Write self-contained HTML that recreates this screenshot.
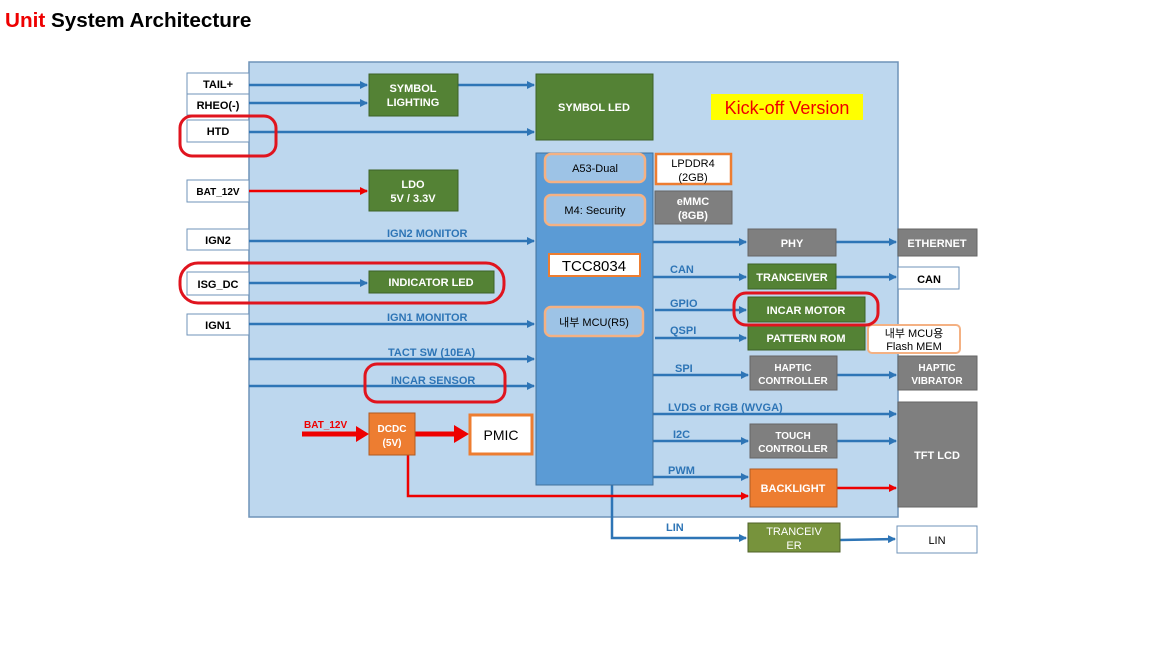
<!DOCTYPE html>
<html><head><meta charset="utf-8"><style>
body{margin:0;width:1152px;height:648px;background:#fff;overflow:hidden;font-family:"Liberation Sans","Noto Sans CJK KR",sans-serif}
svg text{font-family:"Liberation Sans","Noto Sans CJK KR",sans-serif}
</style></head><body>
<svg width="1152" height="648" viewBox="0 0 1152 648" xmlns="http://www.w3.org/2000/svg">
<defs>
<marker id="b" markerWidth="8" markerHeight="8" refX="7" refY="4" orient="auto" markerUnits="userSpaceOnUse"><path d="M0,0 L8,4 L0,8z" fill="#2e75b6"/></marker>
<marker id="r" markerWidth="8" markerHeight="8" refX="7" refY="4" orient="auto" markerUnits="userSpaceOnUse"><path d="M0,0 L8,4 L0,8z" fill="#e00"/></marker>
</defs>
<text x="5" y="27" font-size="20.7" font-weight="bold" fill="#000"><tspan fill="#e00">Unit</tspan> System Architecture</text>
<rect x="249" y="62" width="649" height="455" fill="#bdd7ee" stroke="#6f93b8" stroke-width="1.5"/>
<g font-size="11" font-weight="bold" text-anchor="middle" fill="#000">
<rect x="187" y="73" width="62" height="21" fill="#fff" stroke="#6f93b8"/><text x="218" y="88">TAIL+</text>
<rect x="187" y="94" width="62" height="21" fill="#fff" stroke="#6f93b8"/><text x="218" y="109">RHEO(-)</text>
<rect x="187" y="120" width="62" height="22" fill="#fff" stroke="#6f93b8"/><text x="218" y="135">HTD</text>
<rect x="187" y="180" width="62" height="22" fill="#fff" stroke="#6f93b8"/><text x="218" y="195" font-size="10">BAT_12V</text>
<rect x="187" y="229" width="62" height="21" fill="#fff" stroke="#6f93b8"/><text x="218" y="244">IGN2</text>
<rect x="187" y="272" width="62" height="23" fill="#fff" stroke="#6f93b8"/><text x="218" y="288">ISG_DC</text>
<rect x="187" y="314" width="62" height="21" fill="#fff" stroke="#6f93b8"/><text x="218" y="329">IGN1</text>
</g>
<g stroke="#2e75b6" stroke-width="2.5" fill="none">
<line x1="249" y1="85" x2="367" y2="85" marker-end="url(#b)"/>
<line x1="249" y1="103" x2="367" y2="103" marker-end="url(#b)"/>
<line x1="458" y1="85" x2="534" y2="85" marker-end="url(#b)"/>
<line x1="249" y1="132" x2="534" y2="132" marker-end="url(#b)"/>
<line x1="249" y1="241" x2="534" y2="241" marker-end="url(#b)"/>
<line x1="249" y1="283" x2="367" y2="283" marker-end="url(#b)"/>
<line x1="249" y1="324" x2="534" y2="324" marker-end="url(#b)"/>
<line x1="249" y1="359" x2="534" y2="359" marker-end="url(#b)"/>
<line x1="249" y1="386" x2="534" y2="386" marker-end="url(#b)"/>
<line x1="653" y1="242" x2="746" y2="242" marker-end="url(#b)"/>
<line x1="836" y1="242" x2="896" y2="242" marker-end="url(#b)"/>
<line x1="653" y1="277" x2="746" y2="277" marker-end="url(#b)"/>
<line x1="836" y1="277" x2="896" y2="277" marker-end="url(#b)"/>
<line x1="655" y1="310" x2="746" y2="310" marker-end="url(#b)"/>
<line x1="655" y1="338" x2="746" y2="338" marker-end="url(#b)"/>
<line x1="653" y1="375" x2="748" y2="375" marker-end="url(#b)"/>
<line x1="837" y1="375" x2="896" y2="375" marker-end="url(#b)"/>
<line x1="653" y1="414" x2="896" y2="414" marker-end="url(#b)"/>
<line x1="653" y1="441" x2="748" y2="441" marker-end="url(#b)"/>
<line x1="837" y1="441" x2="896" y2="441" marker-end="url(#b)"/>
<line x1="653" y1="477" x2="748" y2="477" marker-end="url(#b)"/>
<polyline points="612,485 612,538 746,538" marker-end="url(#b)"/>
<line x1="840" y1="540" x2="895" y2="539" marker-end="url(#b)"/>
</g>
<g stroke="#e00" fill="none">
<line x1="249" y1="191" x2="367" y2="191" stroke-width="2.5" marker-end="url(#r)"/>
<polyline points="408,455 408,496 748,496" stroke-width="2.5" marker-end="url(#r)"/>
<line x1="837" y1="488" x2="896" y2="488" stroke-width="2.5" marker-end="url(#r)"/>
<line x1="302" y1="434" x2="358" y2="434" stroke-width="5"/>
<line x1="415" y1="434" x2="456" y2="434" stroke-width="5"/>
</g>
<path d="M356,426 L369,434 L356,442z" fill="#e00"/>
<path d="M454,425 L469,434 L454,443z" fill="#e00"/>
<text x="304" y="428" font-size="10" font-weight="bold" fill="#e00">BAT_12V</text>
<g font-size="11" font-weight="bold" fill="#2e75b6">
<text x="387" y="237">IGN2 MONITOR</text>
<text x="387" y="321">IGN1 MONITOR</text>
<text x="388" y="356">TACT SW (10EA)</text>
<text x="391" y="384">INCAR SENSOR</text>
<text x="670" y="273">CAN</text>
<text x="670" y="307">GPIO</text>
<text x="670" y="334">QSPI</text>
<text x="675" y="372">SPI</text>
<text x="668" y="411">LVDS or RGB (WVGA)</text>
<text x="673" y="438">I2C</text>
<text x="668" y="474">PWM</text>
<text x="666" y="531">LIN</text>
</g>
<g font-size="11" font-weight="bold" fill="#fff" text-anchor="middle">
<rect x="369" y="74" width="89" height="42" fill="#548235" stroke="#3d6126"/><text x="413" y="92">SYMBOL</text><text x="413" y="106">LIGHTING</text>
<rect x="536" y="74" width="117" height="66" fill="#548235" stroke="#3d6126"/><text x="594" y="111">SYMBOL LED</text>
<rect x="369" y="170" width="89" height="41" fill="#548235" stroke="#3d6126"/><text x="413" y="188">LDO</text><text x="413" y="202">5V / 3.3V</text>
<rect x="369" y="271" width="125" height="22" fill="#548235" stroke="#3d6126"/><text x="431" y="286">INDICATOR LED</text>
<rect x="536" y="153" width="117" height="332" fill="#5b9bd5" stroke="#41719c"/>
<rect x="748" y="229" width="88" height="27" fill="#7f7f7f" stroke="#666"/><text x="792" y="247">PHY</text>
<rect x="898" y="229" width="79" height="27" fill="#7f7f7f" stroke="#666"/><text x="937" y="247">ETHERNET</text>
<rect x="748" y="264" width="88" height="25" fill="#548235" stroke="#3d6126"/><text x="792" y="281">TRANCEIVER</text>
<rect x="748" y="297" width="117" height="25" fill="#548235" stroke="#3d6126"/><text x="806" y="314">INCAR MOTOR</text>
<rect x="748" y="326" width="117" height="24" fill="#548235" stroke="#3d6126"/><text x="806" y="342">PATTERN ROM</text>
<rect x="750" y="356" width="87" height="34" fill="#7f7f7f" stroke="#666"/><text x="793" y="371" font-size="10">HAPTIC</text><text x="793" y="384" font-size="10">CONTROLLER</text>
<rect x="898" y="356" width="79" height="34" fill="#7f7f7f" stroke="#666"/><text x="937" y="371" font-size="10">HAPTIC</text><text x="937" y="384" font-size="10">VIBRATOR</text>
<rect x="898" y="402" width="79" height="105" fill="#7f7f7f" stroke="#666"/><text x="937" y="459">TFT LCD</text>
<rect x="750" y="424" width="87" height="34" fill="#7f7f7f" stroke="#666"/><text x="793" y="439" font-size="10">TOUCH</text><text x="793" y="452" font-size="10">CONTROLLER</text>
<rect x="750" y="469" width="87" height="38" fill="#ed7d31" stroke="#ae5a21"/><text x="793" y="492">BACKLIGHT</text>
<rect x="369" y="413" width="46" height="42" fill="#ed7d31" stroke="#ae5a21"/><text x="392" y="432" font-size="10">DCDC</text><text x="392" y="446" font-size="10">(5V)</text>
<rect x="655" y="191" width="77" height="33" fill="#7f7f7f" stroke="#666"/><text x="693" y="205">eMMC</text><text x="693" y="219">(8GB)</text>
<rect x="748" y="523" width="92" height="29" fill="#77933c" stroke="#4f6228"/><text x="794" y="535" font-family="Liberation Serif,serif" font-weight="normal" font-size="11">TRANCEIV</text><text x="794" y="549" font-family="Liberation Serif,serif" font-weight="normal" font-size="11">ER</text>
</g>
<g fill="#000" text-anchor="middle">
<rect x="898" y="267" width="61" height="22" fill="#fff" stroke="#6f93b8"/><text x="929" y="283" font-size="11" font-weight="bold">CAN</text>
<rect x="897" y="526" width="80" height="27" fill="#fff" stroke="#6f93b8"/><text x="937" y="544" font-size="11" font-family="Liberation Serif,serif">LIN</text>
<rect x="470" y="415" width="62" height="39" fill="#fff" stroke="#ed7d31" stroke-width="3"/><text x="501" y="440" font-size="14">PMIC</text>
<rect x="656" y="154" width="75" height="30" fill="#fff" stroke="#ed7d31" stroke-width="2.5"/><text x="693" y="167" font-size="11">LPDDR4</text><text x="693" y="181" font-size="11">(2GB)</text>
<rect x="868" y="325" width="92" height="28" rx="4" fill="#fff" stroke="#f4b183" stroke-width="2"/><text x="914" y="337" font-size="11">내부 MCU용</text><text x="914" y="350" font-size="11">Flash MEM</text>
<rect x="545" y="154" width="100" height="28" rx="6" fill="#9dc3e6" stroke="#f4b183" stroke-width="2.5"/><text x="595" y="172" font-size="11">A53-Dual</text>
<rect x="545" y="195" width="100" height="30" rx="6" fill="#9dc3e6" stroke="#f4b183" stroke-width="2.5"/><text x="595" y="214" font-size="11">M4: Security</text>
<rect x="549" y="254" width="91" height="22" fill="#fff" stroke="#ed7d31" stroke-width="2"/><text x="594" y="271" font-size="15">TCC8034</text>
<rect x="545" y="307" width="98" height="29" rx="6" fill="#9dc3e6" stroke="#f4b183" stroke-width="2.5"/><text x="594" y="326" font-size="11">내부 MCU(R5)</text>
</g>
<rect x="711" y="94" width="152" height="26" fill="#ffff00"/>
<text x="787" y="114" font-size="18" fill="#e00" text-anchor="middle">Kick-off Version</text>
<g fill="none" stroke="#e0141e" stroke-width="3">
<rect x="180" y="116" width="96" height="40" rx="12"/>
<rect x="180" y="263" width="324" height="40" rx="18"/>
<rect x="734" y="293" width="144" height="32" rx="12"/>
<rect x="365" y="364" width="140" height="38" rx="12"/>
</g>
</svg>
</body></html>
